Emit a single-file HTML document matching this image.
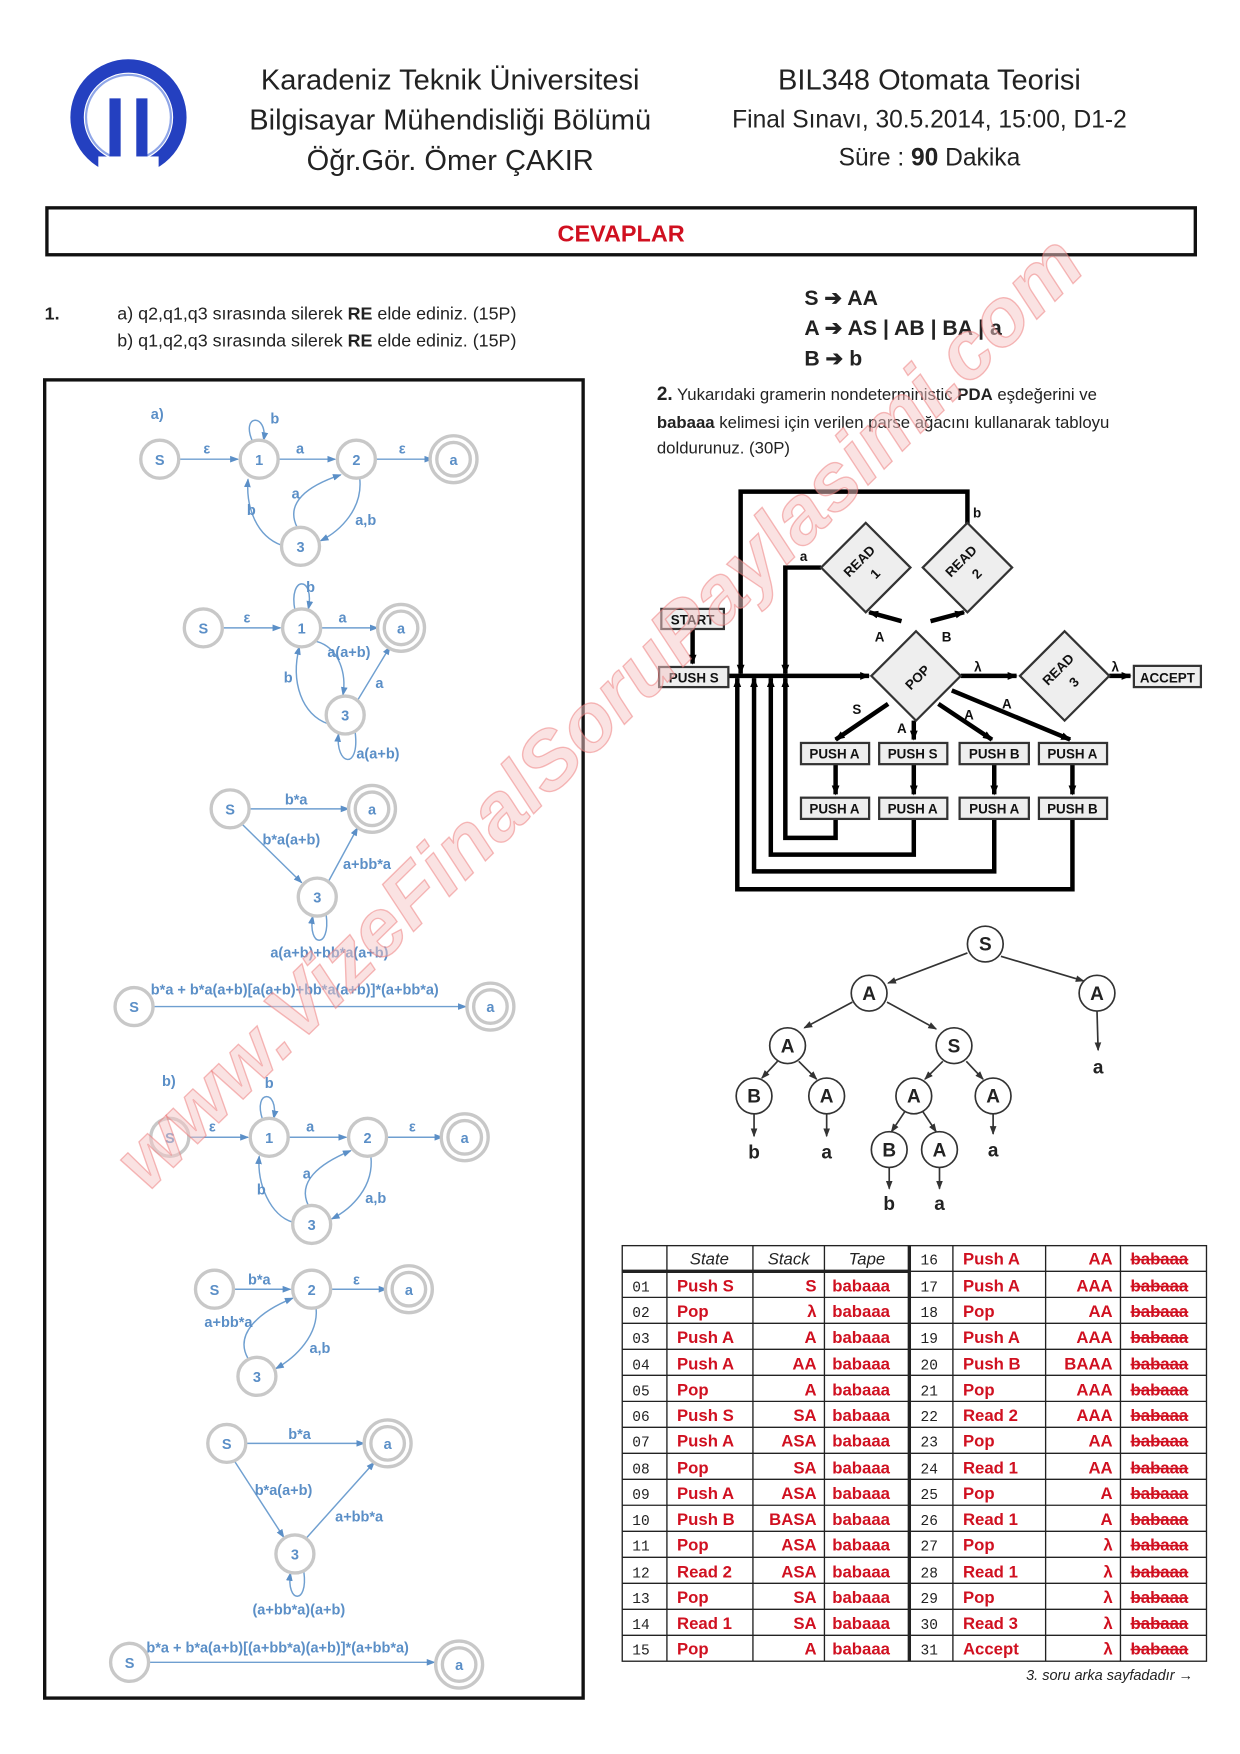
<!DOCTYPE html>
<html><head><meta charset="utf-8"><style>
html,body{margin:0;padding:0;background:#fff}
svg{display:block}
.hd{font-family:"Liberation Sans",sans-serif;fill:#222}
.bl{font-family:"Liberation Sans",sans-serif;fill:#5b8fc7;font-weight:bold;font-size:13px}
.st{fill:#fff;stroke:#c8c8c8;stroke-width:3}
.ed{fill:none;stroke:#6f9fd0;stroke-width:1.3}
.k{fill:none;stroke:#000;stroke-width:4}
.bx{fill:#eee;stroke:#333;stroke-width:2}
.pt{font-family:"Liberation Sans",sans-serif;font-weight:bold;font-size:12px;fill:#111}
.tn{fill:#fff;stroke:#333;stroke-width:1.5}
.tt{font-family:"Liberation Sans",sans-serif;font-weight:bold;font-size:17px;fill:#222}
.rd{font-family:"Liberation Sans",sans-serif;font-weight:bold;font-size:15px;fill:#d01020}
.nm{font-family:"Liberation Mono",monospace;font-size:13px;fill:#222}
</style></head><body>
<svg width="1240" height="1754" viewBox="0 0 1110 1570" xmlns="http://www.w3.org/2000/svg">
<defs>
<marker id="ab" markerUnits="userSpaceOnUse" markerWidth="8" markerHeight="8" refX="7" refY="4" orient="auto"><path d="M0,1 L8,4 L0,7z" fill="#5b8fc7"/></marker>
<marker id="ak" markerUnits="userSpaceOnUse" markerWidth="9" markerHeight="9" refX="8" refY="4.5" orient="auto"><path d="M0,1 L9,4.5 L0,8z" fill="#000"/></marker>
<marker id="at" markerUnits="userSpaceOnUse" markerWidth="8" markerHeight="8" refX="7" refY="4" orient="auto"><path d="M0,1 L8,4 L0,7z" fill="#333"/></marker>
</defs>

<!-- header -->
<circle cx="115" cy="105" r="46" fill="none" stroke="#2440c0" stroke-width="12"/>
<circle cx="115" cy="105" r="38" fill="none" stroke="#8fa6e8" stroke-width="2"/>
<rect x="98" y="88" width="10" height="62" fill="#2440c0"/><rect x="122" y="88" width="10" height="62" fill="#2440c0"/>
<rect x="88" y="140" width="54" height="20" fill="#fff"/>
<g class="hd" text-anchor="middle" font-size="26">
<text x="403" y="80">Karadeniz Teknik Üniversitesi</text>
<text x="403" y="116">Bilgisayar Mühendisliği Bölümü</text>
<text x="403" y="152">Öğr.Gör. Ömer ÇAKIR</text>
<text x="832" y="80">BIL348 Otomata Teorisi</text>
<text x="832" y="114" font-size="22">Final Sınavı, 30.5.2014, 15:00, D1-2</text>
<text x="832" y="148" font-size="22">Süre : <tspan font-weight="bold">90</tspan> Dakika</text>
</g>
<rect x="42" y="186" width="1028" height="42" fill="none" stroke="#111" stroke-width="3"/>
<text x="556" y="216" text-anchor="middle" font-family="Liberation Sans" font-weight="bold" font-size="21" fill="#d01020">CEVAPLAR</text>

<g class="hd" font-size="16">
<text x="40" y="286" font-weight="bold">1.</text>
<text x="105" y="286">a)  q2,q1,q3 sırasında silerek <tspan font-weight="bold">RE</tspan> elde ediniz. (15P)</text>
<text x="105" y="310">b)  q1,q2,q3 sırasında silerek <tspan font-weight="bold">RE</tspan> elde ediniz. (15P)</text>
</g>
<g class="hd" font-size="19" font-weight="bold">
<text x="720" y="273">S  ➔ AA</text>
<text x="720" y="300">A  ➔ AS | AB | BA | a</text>
<text x="720" y="327">B  ➔ b</text>
</g>
<g class="hd" font-size="15">
<text x="588" y="358"><tspan font-weight="bold" font-size="17">2.</tspan>  Yukarıdaki gramerin nondeterministic <tspan font-weight="bold">PDA</tspan> eşdeğerini ve</text>
<text x="588" y="383"><tspan font-weight="bold">babaaa</tspan> kelimesi için verilen parse ağacını kullanarak tabloyu</text>
<text x="588" y="406">doldurunuz. (30P)</text>
</g>

<!-- left box -->
<rect x="40" y="340" width="482" height="1180" fill="none" stroke="#111" stroke-width="3"/>
<text x="135" y="375" class="bl" font-size="22">a)</text>
<!-- a1 -->
<g>
<path class="ed" d="M160,411 L213,411" marker-end="url(#ab)"/><text class="bl" x="182" y="406">ε</text>
<path class="ed" d="M250,411 L300,411" marker-end="url(#ab)"/><text class="bl" x="265" y="406">a</text>
<path class="ed" d="M337,411 L387,411" marker-end="url(#ab)"/><text class="bl" x="357" y="406">ε</text>
<path class="ed" d="M226,395 C215,370 240,370 236,394" marker-end="url(#ab)"/><text class="bl" x="242" y="379">b</text>
<path class="ed" d="M252,488 C230,480 220,455 222,429" marker-end="url(#ab)"/><text class="bl" x="221" y="461">b</text>
<path class="ed" d="M266,472 C255,450 275,435 305,425" marker-end="url(#ab)"/><text class="bl" x="261" y="446">a</text>
<path class="ed" d="M322,428 C325,455 305,475 287,484" marker-end="url(#ab)"/><text class="bl" x="318" y="470">a,b</text>
<circle class="st" cx="143" cy="411" r="17"/><text class="bl" x="143" y="416" text-anchor="middle">S</text>
<circle class="st" cx="232" cy="411" r="17"/><text class="bl" x="232" y="416" text-anchor="middle">1</text>
<circle class="st" cx="319" cy="411" r="17"/><text class="bl" x="319" y="416" text-anchor="middle">2</text>
<circle class="st" cx="406" cy="411" r="21"/><circle class="st" cx="406" cy="411" r="15"/><text class="bl" x="406" y="416" text-anchor="middle">a</text>
<circle class="st" cx="269" cy="489" r="17"/><text class="bl" x="269" y="494" text-anchor="middle">3</text>
</g>
<!-- a2 -->
<g>
<path class="ed" d="M199,562 L251,562" marker-end="url(#ab)"/><text class="bl" x="218" y="557">ε</text>
<path class="ed" d="M288,562 L338,562" marker-end="url(#ab)"/><text class="bl" x="303" y="557">a</text>
<path class="ed" d="M264,546 C258,515 282,515 276,545" marker-end="url(#ab)"/><text class="bl" x="274" y="530">b</text>
<path class="ed" d="M283,574 C305,580 310,605 307,622" marker-end="url(#ab)"/><text class="bl" x="293" y="588">a(a+b)</text>
<path class="ed" d="M294,648 C270,640 260,610 268,579" marker-end="url(#ab)"/><text class="bl" x="254" y="611">b</text>
<path class="ed" d="M320,627 L349,579" marker-end="url(#ab)"/><text class="bl" x="336" y="616">a</text>
<path class="ed" d="M318,656 C322,690 300,685 303,657" marker-end="url(#ab)"/><text class="bl" x="319" y="679">a(a+b)</text>
<circle class="st" cx="182" cy="562" r="17"/><text class="bl" x="182" y="567" text-anchor="middle">S</text>
<circle class="st" cx="270" cy="562" r="17"/><text class="bl" x="270" y="567" text-anchor="middle">1</text>
<circle class="st" cx="359" cy="562" r="21"/><circle class="st" cx="359" cy="562" r="15"/><text class="bl" x="359" y="567" text-anchor="middle">a</text>
<circle class="st" cx="309" cy="640" r="17"/><text class="bl" x="309" y="645" text-anchor="middle">3</text>
</g>
<!-- a3 -->
<g>
<path class="ed" d="M223,724 L312,724" marker-end="url(#ab)"/><text class="bl" x="255" y="720">b*a</text>
<path class="ed" d="M217,738 L270,790" marker-end="url(#ab)"/><text class="bl" x="235" y="756">b*a(a+b)</text>
<path class="ed" d="M294,789 L320,741" marker-end="url(#ab)"/><text class="bl" x="307" y="778">a+bb*a</text>
<path class="ed" d="M292,819 C296,850 275,848 280,820" marker-end="url(#ab)"/><text class="bl" x="242" y="857">a(a+b)+bb*a(a+b)</text>
<circle class="st" cx="206" cy="724" r="17"/><text class="bl" x="206" y="729" text-anchor="middle">S</text>
<circle class="st" cx="333" cy="724" r="21"/><circle class="st" cx="333" cy="724" r="15"/><text class="bl" x="333" y="729" text-anchor="middle">a</text>
<circle class="st" cx="284" cy="803" r="17"/><text class="bl" x="284" y="808" text-anchor="middle">3</text>
</g>
<!-- a4 -->
<g>
<path class="ed" d="M137,901 L417,901" marker-end="url(#ab)"/><text class="bl" x="135" y="890">b*a + b*a(a+b)[a(a+b)+bb*a(a+b)]*(a+bb*a)</text>
<circle class="st" cx="120" cy="901" r="17"/><text class="bl" x="120" y="906" text-anchor="middle">S</text>
<circle class="st" cx="439" cy="901" r="21"/><circle class="st" cx="439" cy="901" r="15"/><text class="bl" x="439" y="906" text-anchor="middle">a</text>
</g>
<text x="145" y="972" class="bl" font-size="22">b)</text>
<!-- b1 -->
<g>
<path class="ed" d="M169,1018 L222,1018" marker-end="url(#ab)"/><text class="bl" x="187" y="1013">ε</text>
<path class="ed" d="M259,1018 L310,1018" marker-end="url(#ab)"/><text class="bl" x="274" y="1013">a</text>
<path class="ed" d="M347,1018 L396,1018" marker-end="url(#ab)"/><text class="bl" x="366" y="1013">ε</text>
<path class="ed" d="M235,1002 C226,975 250,975 245,1001" marker-end="url(#ab)"/><text class="bl" x="237" y="974">b</text>
<path class="ed" d="M262,1094 C242,1088 230,1060 232,1035" marker-end="url(#ab)"/><text class="bl" x="230" y="1069">b</text>
<path class="ed" d="M276,1079 C266,1058 285,1042 314,1030" marker-end="url(#ab)"/><text class="bl" x="271" y="1055">a</text>
<path class="ed" d="M332,1035 C335,1062 315,1082 297,1091" marker-end="url(#ab)"/><text class="bl" x="327" y="1077">a,b</text>
<circle class="st" cx="152" cy="1018" r="17"/><text class="bl" x="152" y="1023" text-anchor="middle">S</text>
<circle class="st" cx="241" cy="1018" r="17"/><text class="bl" x="241" y="1023" text-anchor="middle">1</text>
<circle class="st" cx="329" cy="1018" r="17"/><text class="bl" x="329" y="1023" text-anchor="middle">2</text>
<circle class="st" cx="416" cy="1018" r="21"/><circle class="st" cx="416" cy="1018" r="15"/><text class="bl" x="416" y="1023" text-anchor="middle">a</text>
<circle class="st" cx="279" cy="1096" r="17"/><text class="bl" x="279" y="1101" text-anchor="middle">3</text>
</g>
<!-- b2 -->
<g>
<path class="ed" d="M209,1154 L260,1154" marker-end="url(#ab)"/><text class="bl" x="222" y="1150">b*a</text>
<path class="ed" d="M297,1154 L346,1154" marker-end="url(#ab)"/><text class="bl" x="316" y="1150">ε</text>
<path class="ed" d="M222,1216 C210,1195 230,1175 262,1162" marker-end="url(#ab)"/><text class="bl" x="183" y="1188">a+bb*a</text>
<path class="ed" d="M283,1171 C285,1195 265,1215 247,1225" marker-end="url(#ab)"/><text class="bl" x="277" y="1211">a,b</text>
<circle class="st" cx="192" cy="1154" r="17"/><text class="bl" x="192" y="1159" text-anchor="middle">S</text>
<circle class="st" cx="279" cy="1154" r="17"/><text class="bl" x="279" y="1159" text-anchor="middle">2</text>
<circle class="st" cx="366" cy="1154" r="21"/><circle class="st" cx="366" cy="1154" r="15"/><text class="bl" x="366" y="1159" text-anchor="middle">a</text>
<circle class="st" cx="230" cy="1232" r="17"/><text class="bl" x="230" y="1237" text-anchor="middle">3</text>
</g>
<!-- b3 -->
<g>
<path class="ed" d="M220,1292 L326,1292" marker-end="url(#ab)"/><text class="bl" x="258" y="1288">b*a</text>
<path class="ed" d="M210,1308 L254,1376" marker-end="url(#ab)"/><text class="bl" x="228" y="1338">b*a(a+b)</text>
<path class="ed" d="M274,1377 L335,1309" marker-end="url(#ab)"/><text class="bl" x="300" y="1362">a+bb*a</text>
<path class="ed" d="M272,1407 C276,1437 256,1435 260,1408" marker-end="url(#ab)"/><text class="bl" x="226" y="1445">(a+bb*a)(a+b)</text>
<circle class="st" cx="203" cy="1292" r="17"/><text class="bl" x="203" y="1297" text-anchor="middle">S</text>
<circle class="st" cx="347" cy="1292" r="21"/><circle class="st" cx="347" cy="1292" r="15"/><text class="bl" x="347" y="1297" text-anchor="middle">a</text>
<circle class="st" cx="264" cy="1391" r="17"/><text class="bl" x="264" y="1396" text-anchor="middle">3</text>
</g>
<!-- b4 -->
<g>
<path class="ed" d="M133,1488 L389,1488" marker-end="url(#ab)"/><text class="bl" x="131" y="1479">b*a + b*a(a+b)[(a+bb*a)(a+b)]*(a+bb*a)</text>
<circle class="st" cx="116" cy="1488" r="17"/><text class="bl" x="116" y="1493" text-anchor="middle">S</text>
<circle class="st" cx="411" cy="1490" r="21"/><circle class="st" cx="411" cy="1490" r="15"/><text class="bl" x="411" y="1495" text-anchor="middle">a</text>
</g>

<!-- PDA -->
<g>
<path class="k" d="M620,563 L620,594" marker-end="url(#ak)"/>
<path class="k" d="M652,605 L778,605" marker-end="url(#ak)"/>
<path class="k" d="M866,470 L866,440 L663,440 L663,603" marker-end="url(#ak)"/>
<path class="k" d="M735,508 L703,508 L703,603" marker-end="url(#ak)"/>
<path class="k" d="M807,556 L778,548" marker-end="url(#ak)"/>
<path class="k" d="M833,556 L863,548" marker-end="url(#ak)"/>
<path class="k" d="M860,605 L910,605" marker-end="url(#ak)"/>
<path class="k" d="M993,605 L1012,605" marker-end="url(#ak)"/>
<path class="k" d="M795,630 L748,662" marker-end="url(#ak)"/>
<path class="k" d="M818,645 L818,662" marker-end="url(#ak)"/>
<path class="k" d="M840,630 L888,662" marker-end="url(#ak)"/>
<path class="k" d="M852,618 L958,662" marker-end="url(#ak)"/>
<path class="k" d="M748,684 L748,711" marker-end="url(#ak)"/>
<path class="k" d="M818,684 L818,711" marker-end="url(#ak)"/>
<path class="k" d="M890,684 L890,711" marker-end="url(#ak)"/>
<path class="k" d="M960,684 L960,711" marker-end="url(#ak)"/>
<path class="k" d="M748,733 L748,750 L703,750 L703,607" marker-end="url(#ak)"/>
<path class="k" d="M818,733 L818,765 L690,765 L690,607" marker-end="url(#ak)"/>
<path class="k" d="M890,733 L890,780 L675,780 L675,607" marker-end="url(#ak)"/>
<path class="k" d="M960,733 L960,796 L660,796 L660,607" marker-end="url(#ak)"/>
<rect class="bx" x="592" y="545" width="56" height="18"/><text class="pt" x="620" y="559" text-anchor="middle">START</text>
<rect class="bx" x="590" y="597" width="62" height="18"/><text class="pt" x="621" y="611" text-anchor="middle">PUSH  S</text>
<rect class="bx" x="1015" y="596" width="60" height="19"/><text class="pt" x="1045" y="611" text-anchor="middle">ACCEPT</text>
<g>
<rect class="bx" x="717" y="665" width="61" height="19"/><text class="pt" x="747" y="679" text-anchor="middle">PUSH  A</text>
<rect class="bx" x="787" y="665" width="61" height="19"/><text class="pt" x="817" y="679" text-anchor="middle">PUSH  S</text>
<rect class="bx" x="859" y="665" width="62" height="19"/><text class="pt" x="890" y="679" text-anchor="middle">PUSH  B</text>
<rect class="bx" x="930" y="665" width="61" height="19"/><text class="pt" x="960" y="679" text-anchor="middle">PUSH  A</text>
<rect class="bx" x="717" y="714" width="61" height="19"/><text class="pt" x="747" y="728" text-anchor="middle">PUSH  A</text>
<rect class="bx" x="787" y="714" width="61" height="19"/><text class="pt" x="817" y="728" text-anchor="middle">PUSH  A</text>
<rect class="bx" x="859" y="714" width="62" height="19"/><text class="pt" x="890" y="728" text-anchor="middle">PUSH  A</text>
<rect class="bx" x="930" y="714" width="61" height="19"/><text class="pt" x="960" y="728" text-anchor="middle">PUSH  B</text>
</g>
<path class="bx" d="M820,565 L860,605 L820,645 L780,605z"/><text class="pt" font-size="15" x="820" y="611" text-anchor="middle" transform="rotate(-45 820 605)">POP</text>
<path class="bx" d="M775,468 L815,508 L775,548 L735,508z"/><text class="pt" font-size="14" transform="rotate(-45 775 508)" text-anchor="middle"><tspan x="775" y="504">READ</tspan><tspan x="777" y="522">1</tspan></text>
<path class="bx" d="M866,468 L906,508 L866,548 L826,508z"/><text class="pt" font-size="14" transform="rotate(-45 866 508)" text-anchor="middle"><tspan x="866" y="504">READ</tspan><tspan x="868" y="522">2</tspan></text>
<path class="bx" d="M953,565 L993,605 L953,645 L913,605z"/><text class="pt" font-size="14" transform="rotate(-45 953 605)" text-anchor="middle"><tspan x="953" y="601">READ</tspan><tspan x="955" y="619">3</tspan></text>
<g class="pt" font-size="16">
<text x="716" y="502">a</text><text x="871" y="463">b</text>
<text x="783" y="574">A</text><text x="843" y="574">B</text>
<text x="872" y="601">λ</text><text x="995" y="601">λ</text>
<text x="763" y="639">S</text><text x="803" y="656">A</text>
<text x="863" y="644">A</text><text x="897" y="634">A</text>
</g>
</g>

<!-- parse tree -->
<g stroke="#333" stroke-width="1.5" fill="none">
<path d="M866,853 L795,880" marker-end="url(#at)"/>
<path d="M896,856 L970,878" marker-end="url(#at)"/>
<path d="M763,897 L720,920" marker-end="url(#at)"/>
<path d="M794,897 L838,921" marker-end="url(#at)"/>
<path d="M982,905 L983,940" marker-end="url(#at)"/>
<path d="M696,950 L682,965" marker-end="url(#at)"/>
<path d="M715,950 L731,966" marker-end="url(#at)"/>
<path d="M844,950 L828,966" marker-end="url(#at)"/>
<path d="M865,950 L880,966" marker-end="url(#at)"/>
<path d="M675,997 L675,1017" marker-end="url(#at)"/>
<path d="M740,997 L740,1017" marker-end="url(#at)"/>
<path d="M889,997 L889,1015" marker-end="url(#at)"/>
<path d="M810,995 L798,1013" marker-end="url(#at)"/>
<path d="M826,995 L838,1013" marker-end="url(#at)"/>
<path d="M796,1045 L796,1064" marker-end="url(#at)"/>
<path d="M841,1045 L841,1064" marker-end="url(#at)"/>
</g>
<g>
<circle class="tn" cx="882" cy="845" r="16"/><text class="tt" x="882" y="851" text-anchor="middle">S</text>
<circle class="tn" cx="778" cy="889" r="16"/><text class="tt" x="778" y="895" text-anchor="middle">A</text>
<circle class="tn" cx="982" cy="889" r="16"/><text class="tt" x="982" y="895" text-anchor="middle">A</text>
<circle class="tn" cx="705" cy="936" r="16"/><text class="tt" x="705" y="942" text-anchor="middle">A</text>
<circle class="tn" cx="854" cy="936" r="16"/><text class="tt" x="854" y="942" text-anchor="middle">S</text>
<circle class="tn" cx="675" cy="981" r="16"/><text class="tt" x="675" y="987" text-anchor="middle">B</text>
<circle class="tn" cx="740" cy="981" r="16"/><text class="tt" x="740" y="987" text-anchor="middle">A</text>
<circle class="tn" cx="818" cy="981" r="16"/><text class="tt" x="818" y="987" text-anchor="middle">A</text>
<circle class="tn" cx="889" cy="981" r="16"/><text class="tt" x="889" y="987" text-anchor="middle">A</text>
<circle class="tn" cx="796" cy="1029" r="16"/><text class="tt" x="796" y="1035" text-anchor="middle">B</text>
<circle class="tn" cx="841" cy="1029" r="16"/><text class="tt" x="841" y="1035" text-anchor="middle">A</text>
<text class="tt" x="983" y="961" text-anchor="middle">a</text>
<text class="tt" x="675" y="1037" text-anchor="middle">b</text>
<text class="tt" x="740" y="1037" text-anchor="middle">a</text>
<text class="tt" x="889" y="1035" text-anchor="middle">a</text>
<text class="tt" x="796" y="1083" text-anchor="middle">b</text>
<text class="tt" x="841" y="1083" text-anchor="middle">a</text>
</g>

<!-- watermark -->
<text x="0" y="0" transform="translate(132,1068) rotate(-44.5)" textLength="1180" lengthAdjust="spacingAndGlyphs" font-family="Liberation Sans" font-weight="bold" font-style="italic" font-size="72" fill="#f6c6c6" fill-opacity="0.5" stroke="#e77" stroke-opacity="0.5" stroke-width="1.2">www.VizeFinalSoruPaylasimi.com</text>

<!-- table -->
<g stroke="#222" stroke-width="1.2" fill="none">
<rect x="557" y="1115" width="523" height="372"/>
<path d="M557,1138H814M853,1138H1080M557,1161.3H1080M557,1184.5H1080M557,1207.8H1080M557,1231.1H1080M557,1254.4H1080M557,1277.6H1080M557,1300.9H1080M557,1324.2H1080M557,1347.4H1080M557,1370.7H1080M557,1394H1080M557,1417.3H1080M557,1440.5H1080M557,1463.8H1080M814,1138H853"/>
<path d="M597,1115V1487M674,1115V1487M738,1115V1487M853,1115V1487M936,1115V1487M1003,1115V1487"/>
<path d="M814,1115V1487" stroke-width="3"/>
<path d="M557,1138H814" stroke-width="3"/>
</g>
<g font-family="Liberation Sans" font-style="italic" font-size="15" fill="#222" text-anchor="middle">
<text x="635" y="1132">State</text><text x="706" y="1132">Stack</text><text x="776" y="1132">Tape</text>
</g>
<g class="nm">
<text x="566" y="1156">01</text><text x="566" y="1179">02</text><text x="566" y="1202">03</text><text x="566" y="1226">04</text><text x="566" y="1249">05</text><text x="566" y="1272">06</text><text x="566" y="1295">07</text><text x="566" y="1319">08</text><text x="566" y="1342">09</text><text x="566" y="1365">10</text><text x="566" y="1388">11</text><text x="566" y="1412">12</text><text x="566" y="1435">13</text><text x="566" y="1458">14</text><text x="566" y="1481">15</text>
<text x="824" y="1132">16</text><text x="824" y="1156">17</text><text x="824" y="1179">18</text><text x="824" y="1202">19</text><text x="824" y="1226">20</text><text x="824" y="1249">21</text><text x="824" y="1272">22</text><text x="824" y="1295">23</text><text x="824" y="1319">24</text><text x="824" y="1342">25</text><text x="824" y="1365">26</text><text x="824" y="1388">27</text><text x="824" y="1412">28</text><text x="824" y="1435">29</text><text x="824" y="1458">30</text><text x="824" y="1481">31</text>
</g>
<g class="rd">
<text x="606" y="1156">Push S</text><text x="606" y="1179">Pop</text><text x="606" y="1202">Push A</text><text x="606" y="1226">Push A</text><text x="606" y="1249">Pop</text><text x="606" y="1272">Push S</text><text x="606" y="1295">Push A</text><text x="606" y="1319">Pop</text><text x="606" y="1342">Push A</text><text x="606" y="1365">Push B</text><text x="606" y="1388">Pop</text><text x="606" y="1412">Read 2</text><text x="606" y="1435">Pop</text><text x="606" y="1458">Read 1</text><text x="606" y="1481">Pop</text>
<text x="862" y="1132">Push A</text><text x="862" y="1156">Push A</text><text x="862" y="1179">Pop</text><text x="862" y="1202">Push A</text><text x="862" y="1226">Push B</text><text x="862" y="1249">Pop</text><text x="862" y="1272">Read 2</text><text x="862" y="1295">Pop</text><text x="862" y="1319">Read 1</text><text x="862" y="1342">Pop</text><text x="862" y="1365">Read 1</text><text x="862" y="1388">Pop</text><text x="862" y="1412">Read 1</text><text x="862" y="1435">Pop</text><text x="862" y="1458">Read 3</text><text x="862" y="1481">Accept</text>
</g>
<g class="rd" text-anchor="end">
<text x="731" y="1156">S</text><text x="731" y="1179">λ</text><text x="731" y="1202">A</text><text x="731" y="1226">AA</text><text x="731" y="1249">A</text><text x="731" y="1272">SA</text><text x="731" y="1295">ASA</text><text x="731" y="1319">SA</text><text x="731" y="1342">ASA</text><text x="731" y="1365">BASA</text><text x="731" y="1388">ASA</text><text x="731" y="1412">ASA</text><text x="731" y="1435">SA</text><text x="731" y="1458">SA</text><text x="731" y="1481">A</text>
<text x="996" y="1132">AA</text><text x="996" y="1156">AAA</text><text x="996" y="1179">AA</text><text x="996" y="1202">AAA</text><text x="996" y="1226">BAAA</text><text x="996" y="1249">AAA</text><text x="996" y="1272">AAA</text><text x="996" y="1295">AA</text><text x="996" y="1319">AA</text><text x="996" y="1342">A</text><text x="996" y="1365">A</text><text x="996" y="1388">λ</text><text x="996" y="1412">λ</text><text x="996" y="1435">λ</text><text x="996" y="1458">λ</text><text x="996" y="1481">λ</text>
</g>
<g class="rd">
<text x="745" y="1156">babaaa</text><text x="745" y="1179">babaaa</text><text x="745" y="1202">babaaa</text><text x="745" y="1226">babaaa</text><text x="745" y="1249">babaaa</text><text x="745" y="1272">babaaa</text><text x="745" y="1295">babaaa</text><text x="745" y="1319">babaaa</text><text x="745" y="1342">babaaa</text><text x="745" y="1365">babaaa</text><text x="745" y="1388">babaaa</text><text x="745" y="1412">babaaa</text><text x="745" y="1435">babaaa</text><text x="745" y="1458">babaaa</text><text x="745" y="1481">babaaa</text>
</g>
<g class="rd" text-decoration="line-through">
<text x="1012" y="1132">babaaa</text><text x="1012" y="1156">babaaa</text><text x="1012" y="1179">babaaa</text><text x="1012" y="1202">babaaa</text><text x="1012" y="1226">babaaa</text><text x="1012" y="1249">babaaa</text><text x="1012" y="1272">babaaa</text><text x="1012" y="1295">babaaa</text><text x="1012" y="1319">babaaa</text><text x="1012" y="1342">babaaa</text><text x="1012" y="1365">babaaa</text><text x="1012" y="1388">babaaa</text><text x="1012" y="1412">babaaa</text><text x="1012" y="1435">babaaa</text><text x="1012" y="1458">babaaa</text><text x="1012" y="1481">babaaa</text>
</g>
<text x="1068" y="1504" text-anchor="end" font-family="Liberation Sans" font-style="italic" font-size="13" fill="#222">3. soru arka sayfadadır →</text>
</svg>
</body></html>
